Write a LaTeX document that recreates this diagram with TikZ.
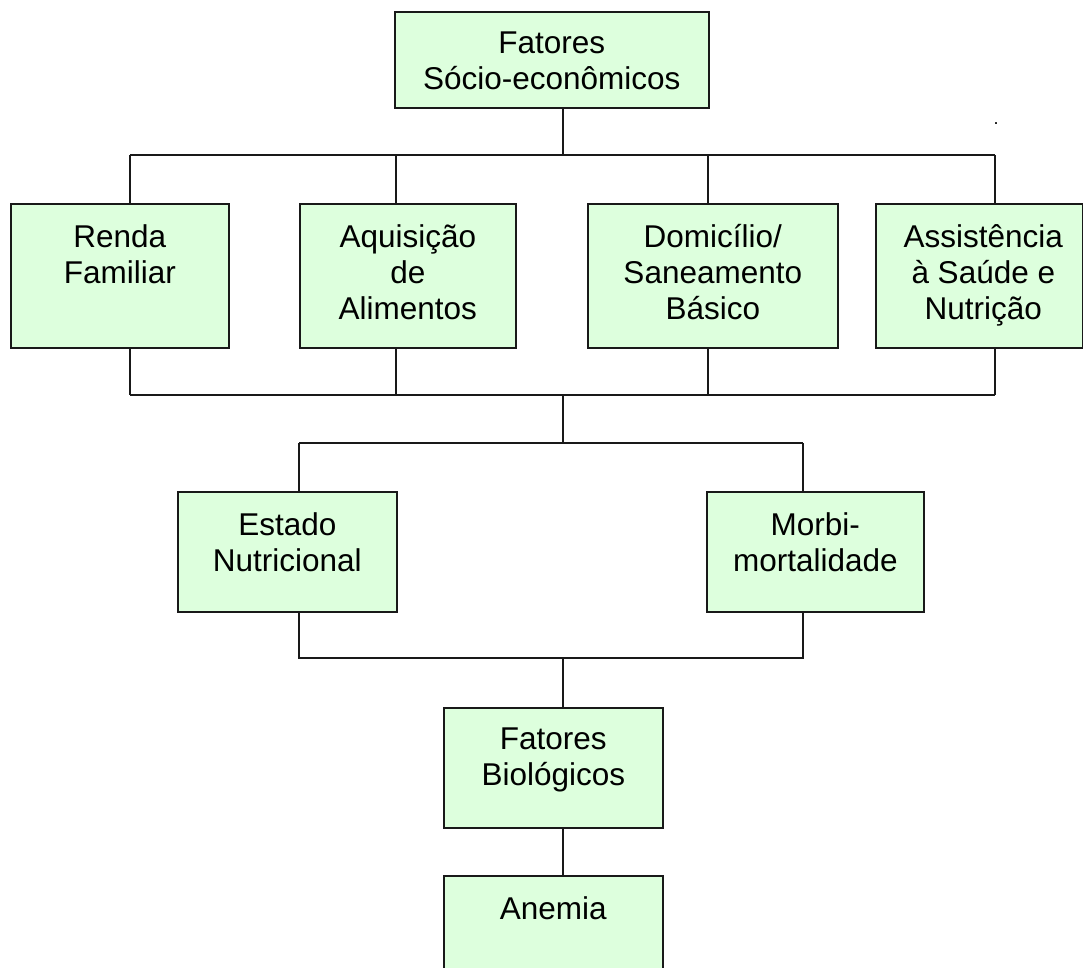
\documentclass[tikz,border=0pt]{standalone}
\usepackage{fontspec}
\setmainfont{Liberation Sans}
\usetikzlibrary{positioning}
\definecolor{boxgreen}{RGB}{221,255,221}

\begin{document}
\begin{tikzpicture}[x=1pt, y=-1pt,
  box/.style={draw=black!90, line width=1.6pt, fill=boxgreen, inner sep=0, anchor=north west},
  lbl/.style={anchor=north, inner sep=0, align=center, font=\fontsize{31.5}{36}\selectfont},
  link/.style={line width=1.3pt, black!90}]

\useasboundingbox (0,0) rectangle (1083,967);
\clip (0,0) rectangle (1083,967);

%connector points
\coordinate (hub1) at (563,155);
\coordinate (tb1) at (130,155);
\coordinate (tb2) at (396,155);
\coordinate (tb3) at (708,155);
\coordinate (tb4) at (995,155);
\coordinate (bb1) at (130,395);
\coordinate (bb2) at (396,395);
\coordinate (bb3) at (708,395);
\coordinate (bb4) at (995,395);
\coordinate (hub2) at (563,395);
\coordinate (hub3) at (563,443);
\coordinate (ml) at (299,443);
\coordinate (mr) at (803,443);
\coordinate (ll) at (299,658);
\coordinate (lr) at (803,658);
\coordinate (hub4) at (563,658);

%boxes
\node[box, minimum width=314, minimum height=96] (top) at (394,11) {};
\node[box, minimum width=218, minimum height=144] (renda) at (10,203) {};
\node[box, minimum width=216, minimum height=144] (aquis) at (299,203) {};
\node[box, minimum width=250, minimum height=144] (domic) at (587,203) {};
\node[box, minimum width=207, minimum height=144] (assist) at (875,203) {};
\node[box, minimum width=219, minimum height=120] (estado) at (177,491) {};
\node[box, minimum width=217, minimum height=120] (morbi) at (706,491) {};
\node[box, minimum width=219, minimum height=120] (bio) at (443,707) {};
\node[box, minimum width=219, minimum height=120] (anemia) at (443,875) {};

%labels
\node[lbl] (top text) at ([yshift=-21pt]top.north) {Fatores\\Sócio-econômicos};
\node[lbl] (renda text) at ([yshift=-21pt]renda.north) {Renda\\Familiar};
\node[lbl] (aquis text) at ([yshift=-21pt]aquis.north) {Aquisição\\de\\Alimentos};
\node[lbl] (domic text) at ([yshift=-21pt]domic.north) {Domicílio/\\Saneamento\\Básico};
\node[lbl] (assist text) at ([xshift=4pt, yshift=-21pt]assist.north) {Assistência\\à Saúde e\\Nutrição};
\node[lbl] (estado text) at ([yshift=-21pt]estado.north) {Estado\\Nutricional};
\node[lbl] (morbi text) at ([yshift=-21pt]morbi.north) {Morbi-\\mortalidade};
\node[lbl] (bio text) at ([yshift=-21pt]bio.north) {Fatores\\Biológicos};
\node[lbl] (anemia text) at ([yshift=-21pt]anemia.north) {Anemia};
\node[inner sep=0, font=\fontsize{18}{18}\selectfont] (dot) at (996,124) {.};

%top bus
\draw[link] (top.south -| hub1) -- (hub1);
\draw[link] (tb1) -- (tb4);
\draw[link] (tb1) -- (tb1 |- renda.north);
\draw[link] (tb2) -- (tb2 |- aquis.north);
\draw[link] (tb3) -- (tb3 |- domic.north);
\draw[link] (tb4) -- (tb4 |- assist.north);

%bottom bus
\draw[link] (bb1 |- renda.south) -- (bb1);
\draw[link] (bb2 |- aquis.south) -- (bb2);
\draw[link] (bb3 |- domic.south) -- (bb3);
\draw[link] (bb4 |- assist.south) -- (bb4);
\draw[link] (bb1) -- (bb4);
\draw[link] (hub2) -- (hub3);

%middle
\draw[link] (ml) -- (mr);
\draw[link] (ml) -- (ml |- estado.north);
\draw[link] (mr) -- (mr |- morbi.north);
\draw[link] (ll |- estado.south) -- (ll) -- (lr) -- (lr |- morbi.south);
\draw[link] (hub4) -- (hub4 |- bio.north);
\draw[link] (hub4 |- bio.south) -- (hub4 |- anemia.north);

\end{tikzpicture}
\end{document}
